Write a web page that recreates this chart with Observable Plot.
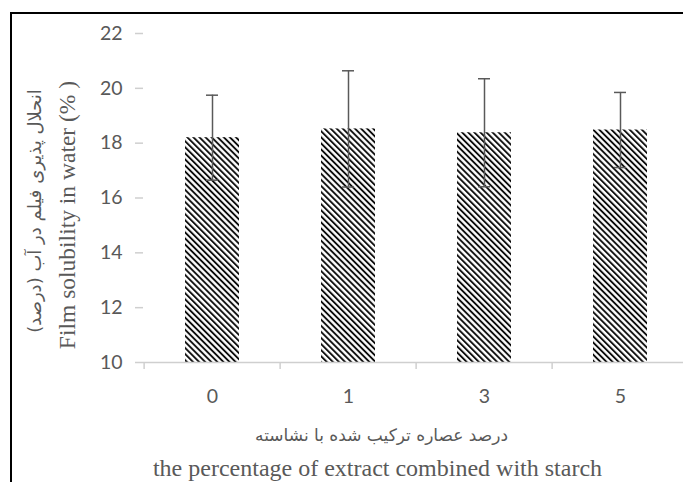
<!DOCTYPE html>
<html><head><meta charset="utf-8">
<script src="https://cdn.jsdelivr.net/npm/d3@7"></script>
<script src="https://cdn.jsdelivr.net/npm/@observablehq/plot@0.6"></script>
<style>
body{margin:0;background:#fff;overflow:hidden;}
#wrap{position:relative;width:683px;height:482px;overflow:hidden;}
#border{position:absolute;left:10px;top:12px;width:700px;height:500px;border-left:2px solid #000;border-top:2px solid #000;pointer-events:none;}
svg{position:absolute;left:0;top:0;}
</style></head><body><div id="wrap"><div id="border"></div></div>
<script>
const categories = ["0", "1", "3", "5"];
const means = [18.2, 18.52, 18.38, 18.48];
const errors = [1.55, 2.12, 1.97, 1.37];
const yTicks = [10, 12, 14, 16, 18, 20, 22];
const xTitleFa = "درصد عصاره ترکیب شده با نشاسته";
const xTitleEn = "the percentage of extract combined with starch";
const yTitleFa = "انحلال پذیری فیلم در آب (درصد)";
const yTitleEn = "Film solubility in water (% )";

const data = categories.map((c, i) => ({cat: c, mean: means[i], err: errors[i]}));

const X0 = 143, X1 = 690;
const step = (X1 - X0) / categories.length;
const axisGray = "#cfcfcf";
const textGray = "#595959";
const tickFont = "Lato, 'Open Sans', sans-serif";

const chart = Plot.plot({
  width: 683, height: 482,
  marginLeft: 143, marginRight: 0, marginTop: 33, marginBottom: 120,
  style: {fontFamily: tickFont, fontSize: "19.5px", color: textGray, background: "transparent", overflow: "visible"},
  x: {domain: categories, range: [X0, X1], paddingInner: 0.6, paddingOuter: 0.3, align: 0.5},
  y: {domain: [10, 22], range: [362, 33]},
  marks: [
    Plot.barY(data, {x: "cat", y1: 10, y2: "mean", fill: "url(#hatch)"}),
    Plot.ruleY([10], {stroke: axisGray, strokeWidth: 1.5}),
    Plot.ruleX(categories, {x: d => d, y1: 10, y2: 10, dx: -step / 2, insetBottom: -7, stroke: axisGray, strokeWidth: 1.5}),
    Plot.axisY({ticks: yTicks, tickSize: 8, tickPadding: 13, stroke: axisGray, strokeWidth: 1.5, fill: textGray, label: null, line: true, fontSize: 19.5, fontFamily: tickFont}),
    Plot.axisX({tickSize: 0, tickPadding: 27, fill: textGray, label: null, fontSize: 19.5, fontFamily: tickFont}),
    Plot.ruleX(data, {x: "cat", y1: d => d.mean - d.err, y2: d => d.mean + d.err, stroke: textGray, strokeWidth: 1.5}),
    Plot.tickY(data, {x: "cat", y: d => d.mean + d.err, insetLeft: 21, insetRight: 21, stroke: textGray, strokeWidth: 1.5}),
    Plot.tickY(data, {x: "cat", y: d => d.mean - d.err, insetLeft: 21, insetRight: 21, stroke: textGray, strokeWidth: 1.5}),
    Plot.text([xTitleFa], {text: d => d, frameAnchor: "bottom", textAnchor: "middle", dx: -32, dy: 73, lineAnchor: "middle", fontFamily: "'DejaVu Sans', sans-serif", fontSize: 17, fill: textGray}),
    Plot.text([xTitleEn], {text: d => d, frameAnchor: "bottom", textAnchor: "middle", dx: -36, dy: 106, lineAnchor: "middle", fontFamily: "'Liberation Serif', 'Times New Roman', serif", fontSize: 24, fill: textGray}),
    Plot.text([yTitleFa], {text: d => d, frameAnchor: "left", textAnchor: "middle", dx: -108, dy: 13, rotate: -90, lineAnchor: "middle", fontFamily: "'DejaVu Sans', sans-serif", fontSize: 18, fill: textGray}),
    Plot.text([yTitleEn], {text: d => d, frameAnchor: "left", textAnchor: "middle", dx: -76, dy: 17, rotate: -90, lineAnchor: "middle", fontFamily: "'Liberation Serif', 'Times New Roman', serif", fontSize: 23.5, fill: textGray})
  ]
});

const svg = d3.select(chart);
const defs = svg.insert("defs", ":first-child");
const pat = defs.append("pattern").attr("id", "hatch").attr("patternUnits", "userSpaceOnUse")
  .attr("width", 4.3).attr("height", 4.3).attr("patternTransform", "rotate(-45)");
pat.append("rect").attr("width", 4.3).attr("height", 4.3).attr("fill", "#fff");
pat.append("line").attr("x1", 1).attr("x2", 1).attr("y1", 0).attr("y2", 4.3).attr("stroke", "#000").attr("stroke-width", 1.8);

document.getElementById("wrap").prepend(chart);
</script>
</body></html>
